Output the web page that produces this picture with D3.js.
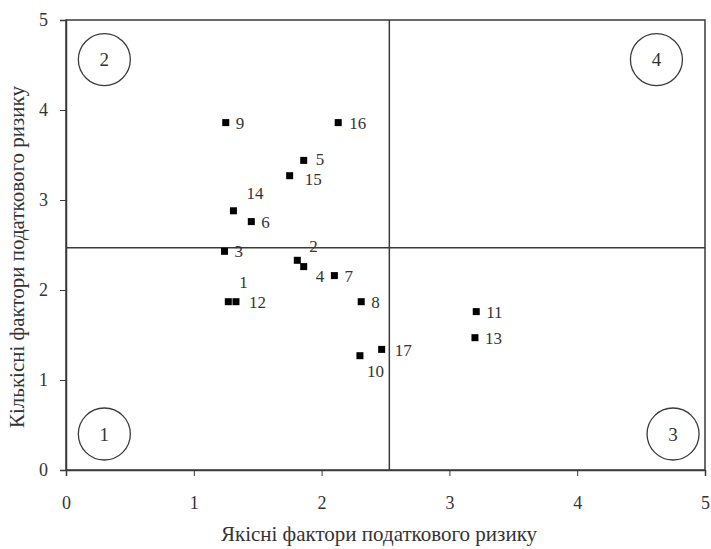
<!DOCTYPE html>
<html><head><meta charset="utf-8">
<script src="https://cdn.jsdelivr.net/npm/d3@7"></script>
<style>body{margin:0;background:#fff}svg{display:block}
svg text{font-family:"Liberation Serif","Times New Roman",serif;}</style>
</head><body><svg id="c" width="711" height="549"></svg>
<script>
const ids = ["1","2","3","4","5","6","7","8","9","10","11","12","13","14","15","16","17"];
const qualitative = [1.27,1.81,1.24,1.86,1.86,1.45,2.10,2.31,1.25,2.30,3.21,1.33,3.20,1.31,1.75,2.13,2.47];
const quantitative = [1.87,2.33,2.43,2.26,3.44,2.76,2.16,1.87,3.86,1.27,1.76,1.87,1.47,2.88,3.27,3.86,1.34];
const xTicks = [0,1,2,3,4,5];
const yTicks = [0,1,2,3,4,5];
const dividerX = 2.53, dividerY = 2.47;
const quadrants = ["1","2","3","4"];
const quadrantX = [0.3,0.3,4.75,4.62];
const quadrantY = [0.4,4.56,0.4,4.56];
// label offsets (px) per point
const labelDx = [11,12,10,12,12,10,10,10,10,7,10,13,10,13,15,11,13];
const labelDy = [-14,-8,6,15,5,6,6,6,6,21,6,6,6,-12,9,6,7];

const svg = d3.select("#c");
const x = d3.scaleLinear().domain([0,5]).range([66,705]);
const y = d3.scaleLinear().domain([0,5]).range([470,20]);
const ink = "#3a3a3a";

// frame
svg.append("rect").attr("x",x(0)).attr("y",y(5)).attr("width",x(5)-x(0)).attr("height",y(0)-y(5))
  .attr("fill","none").attr("stroke",ink).attr("stroke-width",1.5);

const xa = svg.append("g").attr("transform",`translate(0,${y(0)})`)
  .call(d3.axisBottom(x).tickValues(xTicks).tickSize(6).tickPadding(20).tickFormat(d3.format("d")));
const ya = svg.append("g").attr("transform",`translate(${x(0)},0)`)
  .call(d3.axisLeft(y).tickValues(yTicks).tickSize(6).tickPadding(12).tickFormat(d3.format("d")));
[xa,ya].forEach(a=>{
  a.attr("font-family",null);
  a.select(".domain").attr("stroke",ink).attr("stroke-width",1.5);
  a.selectAll(".tick line").attr("stroke",ink);
  a.selectAll(".tick text").attr("font-size",18).attr("fill","#333");
});

// dividers
svg.append("line").attr("x1",x(dividerX)).attr("x2",x(dividerX)).attr("y1",y(5)).attr("y2",y(0))
  .attr("stroke",ink).attr("stroke-width",1.5);
svg.append("line").attr("x1",x(0)).attr("x2",x(5)).attr("y1",y(dividerY)).attr("y2",y(dividerY))
  .attr("stroke",ink).attr("stroke-width",1.5);

// quadrant circles
const q = svg.append("g").selectAll("g").data(quadrants).join("g")
  .attr("transform",(d,i)=>`translate(${x(quadrantX[i])},${y(quadrantY[i])})`);
q.append("circle").attr("r",26).attr("fill","none").attr("stroke",ink).attr("stroke-width",1.3);
q.append("text").attr("text-anchor","middle").attr("dy","0.35em")
  .attr("font-size",19).attr("fill","#333").text(d=>d);

// points
const pts = ids.map((id,i)=>({id, x:qualitative[i], y:quantitative[i], dx:labelDx[i], dy:labelDy[i]}));
svg.append("g").selectAll("rect").data(pts).join("rect")
  .attr("x",d=>x(d.x)-3.5).attr("y",d=>y(d.y)-3.5).attr("width",7).attr("height",7).attr("fill","#000");
svg.append("g").selectAll("text").data(pts).join("text")
  .attr("x",d=>x(d.x)+d.dx).attr("y",d=>y(d.y)+d.dy)
  .attr("font-size",17).attr("fill","#333").text(d=>d.id);

// axis titles
svg.append("text").attr("x",379).attr("y",541).attr("text-anchor","middle")
  .attr("font-size",21).attr("fill","#333").text("Якісні фактори податкового ризику");
svg.append("text").attr("transform","translate(24,257) rotate(-90)").attr("text-anchor","middle")
  .attr("font-size",21).attr("fill","#333").text("Кількісні фактори податкового ризику");
</script></body></html>
